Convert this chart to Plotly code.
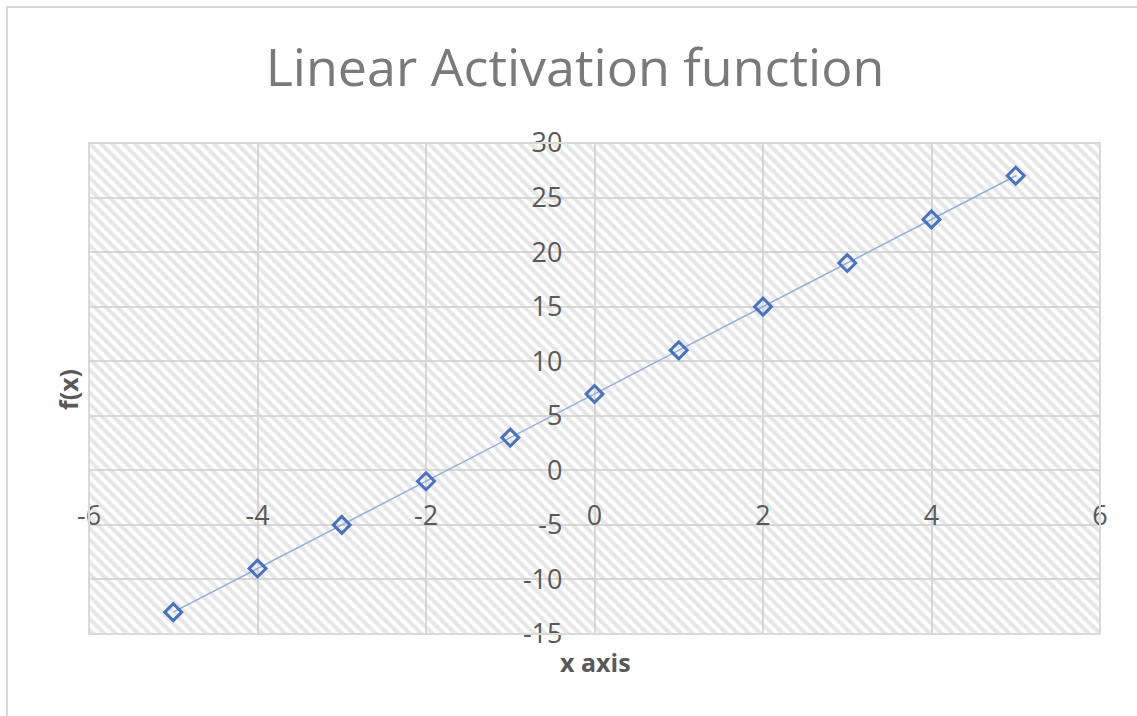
import plotly.graph_objects as go

# Data
x_vals = [-5, -4, -3, -2, -1, 0, 1, 2, 3, 4, 5]
y_vals = [-13, -9, -5, -1, 3, 7, 11, 15, 19, 23, 27]
X_RANGE = [-6, 6]
Y_RANGE = [-15, 30]
X_TICKS = [-6, -4, -2, 0, 2, 4, 6]
Y_TICKS = [-15, -10, -5, 0, 5, 10, 15, 20, 25, 30]
X_TICKTEXT = ["-6", "-4", "-2", "0", "2", "4", "6"]
Y_TICKTEXT = ["-15", "-10", "-5", "0", "5", "10", "15", "20", "25", "30"]

W, H = 1137, 716
DX = [89 / W, 1100 / W]
DY = [(H - 634) / H, (H - 143) / H]

def xfrac(v):
    return DX[0] + (DX[1] - DX[0]) * (v - X_RANGE[0]) / (X_RANGE[1] - X_RANGE[0])

def yfrac(v):
    return DY[0] + (DY[1] - DY[0]) * (v - Y_RANGE[0]) / (Y_RANGE[1] - Y_RANGE[0])

GRID = "#d9d9d9"
TXT = "#595959"
FONT = "Open Sans"

fig = go.Figure()

# hatched plot-area background
fig.add_trace(go.Scatter(
    x=[X_RANGE[0], X_RANGE[1], X_RANGE[1], X_RANGE[0], X_RANGE[0]],
    y=[Y_RANGE[0], Y_RANGE[0], Y_RANGE[1], Y_RANGE[1], Y_RANGE[0]],
    mode="lines", line=dict(width=0), fill="toself",
    fillcolor="rgba(0,0,0,0)",
    fillpattern=dict(shape="\\", size=8, solidity=0.5, fgcolor="#cdcdcd",
                     bgcolor="rgba(0,0,0,0)"),
    hoverinfo="skip", showlegend=False,
))

fig.add_trace(go.Scatter(
    x=x_vals, y=y_vals, mode="lines+markers",
    line=dict(color="#8fb0e0", width=1.5),
    marker=dict(symbol="diamond-open", size=13, color="#4472c4",
                line=dict(width=3, color="#4472c4")),
    showlegend=False,
))

fig.update_layout(
    width=W, height=H,
    margin=dict(l=0, r=0, t=0, b=0),
    paper_bgcolor="white", plot_bgcolor="white",
    font=dict(family=FONT, color=TXT),
    title=dict(text="Linear Activation function", x=575 / W, xanchor="center",
               y=1 - 68 / H, yanchor="middle", xref="paper", yref="paper",
               font=dict(size=52, color="#7a7a7a", family=FONT)),
    xaxis=dict(domain=DX, range=X_RANGE, tickvals=X_TICKS, ticktext=X_TICKTEXT,
               showgrid=True, gridcolor=GRID, gridwidth=2, zeroline=False,
               showline=False, anchor="free", position=yfrac(0), ticks="",
               ticklabelstandoff=27,
               tickfont=dict(size=27, color=TXT), automargin=False),
    yaxis=dict(domain=DY, range=Y_RANGE, tickvals=Y_TICKS, ticktext=Y_TICKTEXT,
               showgrid=True, gridcolor=GRID, gridwidth=2, zeroline=False,
               showline=False, anchor="free", position=xfrac(0), ticks="",
               ticklabelstandoff=32,
               tickfont=dict(size=27, color=TXT), automargin=False),
    shapes=[
        dict(type="rect", xref="x domain", yref="y domain", x0=0, x1=1, y0=0, y1=1,
             line=dict(color=GRID, width=2), fillcolor="rgba(0,0,0,0)", layer="above"),
        dict(type="rect", xref="paper", yref="paper", x0=7 / W, x1=1.2, y0=-0.2,
             y1=1 - 7 / H, line=dict(color=GRID, width=2), fillcolor="rgba(0,0,0,0)"),
    ],
    annotations=[
        dict(text="<b>x axis</b>", xref="paper", yref="paper", x=595 / W,
             y=1 - 662 / H, xanchor="center", yanchor="middle", showarrow=False,
             font=dict(size=25, color=TXT, family=FONT)),
        dict(text="<b>f(x)</b>", xref="paper", yref="paper", x=68 / W,
             y=1 - 390 / H, xanchor="center", yanchor="middle", showarrow=False,
             textangle=-90, font=dict(size=25, color=TXT, family=FONT)),
    ],
)

fig.write_html("out.html")
